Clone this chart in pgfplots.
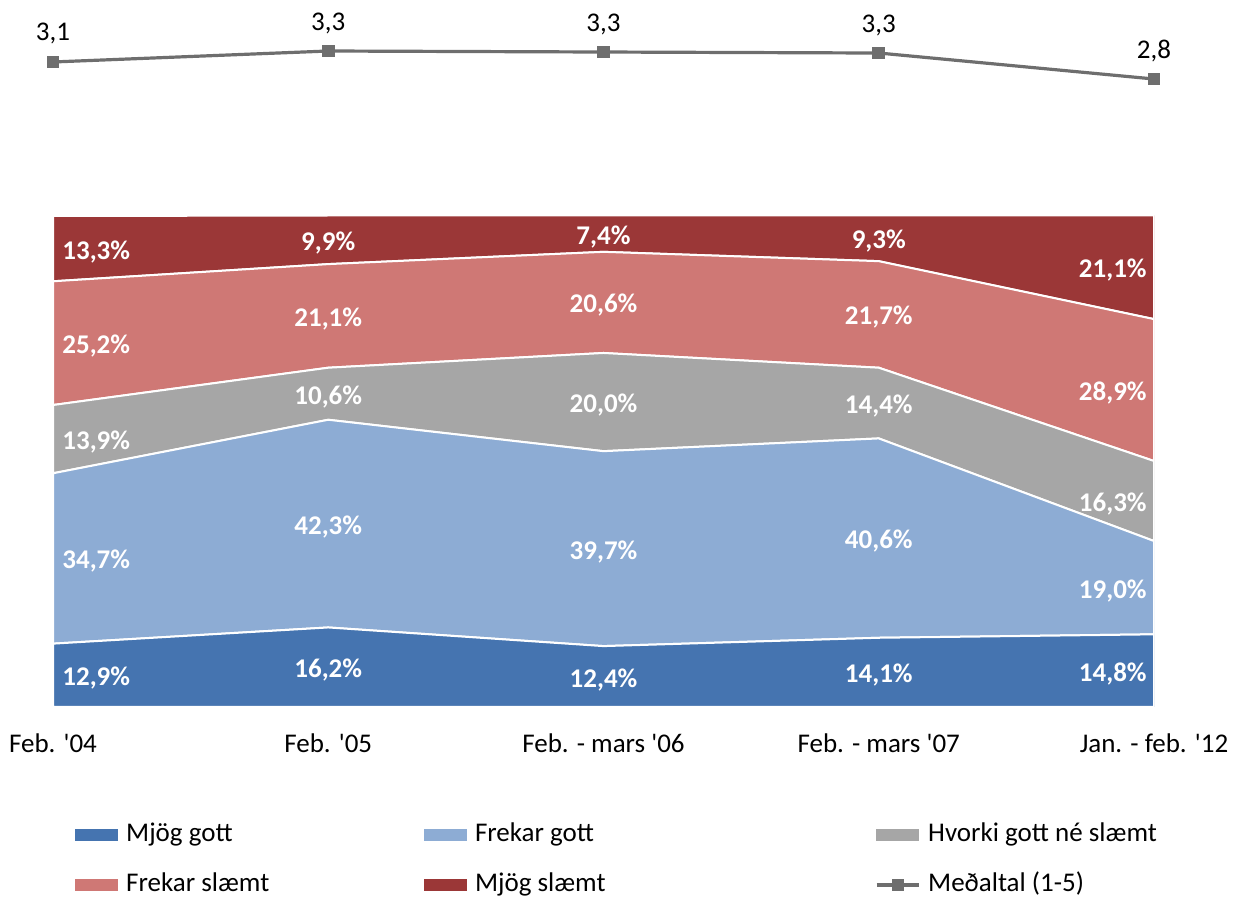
\documentclass[border=0pt]{standalone}
\usepackage{pgfplots}
\pgfplotsset{compat=1.18}
\usepackage{pgfplotstable}
\usepackage{fontspec}
\setmainfont{Carlito}

\definecolor{mgott}{RGB}{69,116,176}
\definecolor{fgott}{RGB}{141,172,212}
\definecolor{hvorki}{RGB}{166,166,166}
\definecolor{fslaemt}{RGB}{207,120,117}
\definecolor{mslaemt}{RGB}{155,55,55}
\definecolor{linegray}{RGB}{110,110,110}

% shares in %, average score (1-5)
\pgfplotstableread{
x a    b    c    d    e    avg
0 12.9 34.7 13.9 25.2 13.3 3.104
1 16.2 42.3 10.6 21.1 9.9  3.30
2 12.4 39.7 20.0 20.6 7.4  3.282
3 14.1 40.6 14.4 21.7 9.3  3.264
4 14.8 19.0 16.3 28.9 21.1 2.80
}\data

\newcommand{\lcA}[1]{\makebox[153pt][l]{\hspace*{4pt}#1}}
\newcommand{\lcB}[1]{\makebox[204pt][l]{\hspace*{4pt}#1}}
\newcommand{\lcC}[1]{\hspace*{4pt}#1}

% one band's labels: first period left aligned, last right aligned
\newcommand{\lblrow}[2]{%
  \addplot[lbl, every node near coord/.append style={anchor=west, xshift=4.5pt},
    restrict x to domain=0:0] table[x=x, y expr={#2}, meta=#1] {\data};
  \addplot[lbl, every node near coord/.append style={anchor=center},
    restrict x to domain=1:3] table[x=x, y expr={#2}, meta=#1] {\data};
  \addplot[lbl, every node near coord/.append style={anchor=east, xshift=-3.5pt},
    restrict x to domain=4:4] table[x=x, y expr={#2}, meta=#1] {\data};
}

\begin{document}
\begin{tikzpicture}[font=\fontsize{13.5}{16}\selectfont]
\useasboundingbox (-26.5pt,-95pt) rectangle (590.5pt,353.5pt);
\pgfplotsset{
  base/.style={scale only axis, width=550.5pt, height=245.5pt,
    xmin=0, xmax=4, at={(0,0)}, anchor=south west},
  lbl/.style={draw=none, mark=none, point meta=explicit,
    nodes near coords={\pgfmathprintnumber[fixed,zerofill,precision=1,use comma]{\pgfplotspointmeta}\%},
    every node near coord/.append style={inner sep=0pt, text=white, yshift=-1.5pt,
      font=\fontsize{13.5}{15}\selectfont\bfseries}},
  swatch/.style={legend image code/.code={\fill[#1] (0pt,-2.75pt) rectangle (21pt,2.75pt);}}
}

% stacked areas
\begin{axis}[base, ymin=0, ymax=100, stack plots=y,
  axis line style={draw=none}, tick style={draw=none}, ytick=\empty,
  xtick={0,...,4},
  xticklabels={Feb. \textquotesingle04, Feb. \textquotesingle05,
    Feb. - mars \textquotesingle06, Feb. - mars \textquotesingle07,
    Jan. - feb. \textquotesingle12},
  xticklabel style={anchor=base, yshift=-23pt, inner sep=0pt}]
  \addplot[fill=mgott, draw=white, line width=1pt] table[x=x, y=a] {\data} \closedcycle;
  \addplot[fill=fgott, draw=white, line width=1pt] table[x=x, y=b] {\data} \closedcycle;
  \addplot[fill=hvorki, draw=white, line width=1pt] table[x=x, y=c] {\data} \closedcycle;
  \addplot[fill=fslaemt, draw=white, line width=1pt] table[x=x, y=d] {\data} \closedcycle;
  \addplot[fill=mslaemt, draw=white, line width=1pt] table[x=x, y=e] {\data} \closedcycle;
\end{axis}

% labels in the middle of each band
\begin{axis}[base, hide axis, ymin=0, ymax=100,
  /pgf/number format/assume math mode=true]
  \lblrow{a}{\thisrow{a}/2}
  \lblrow{b}{\thisrow{a}+\thisrow{b}/2}
  \lblrow{c}{\thisrow{a}+\thisrow{b}+\thisrow{c}/2}
  \lblrow{d}{\thisrow{a}+\thisrow{b}+\thisrow{c}+\thisrow{d}/2}
  \lblrow{e}{\thisrow{a}+\thisrow{b}+\thisrow{c}+\thisrow{d}+\thisrow{e}/2}
\end{axis}

% average line and legend
\begin{axis}[base, hide axis, clip=false, ymin=-8.414, ymax=0.354,
  /pgf/number format/assume math mode=true,
  legend columns=3,
  legend cell align=left,
  legend style={at={(axis description cs:0,0)}, anchor=west,
    xshift=11pt, yshift=-76.5pt, draw=none, fill=none,
    inner sep=0pt, column sep=0pt, row sep=13pt,
    nodes={inner sep=0pt, text height=9pt, text depth=3pt},
    font=\fontsize{13.5}{16}\selectfont}]
  \addlegendimage{swatch=mgott}   \addlegendentry{\lcA{Mjög gott}}
  \addlegendimage{swatch=fgott}   \addlegendentry{\lcB{Frekar gott}}
  \addlegendimage{swatch=hvorki}  \addlegendentry{\lcC{Hvorki gott né slæmt}}
  \addlegendimage{swatch=fslaemt} \addlegendentry{\lcA{Frekar slæmt}}
  \addlegendimage{swatch=mslaemt} \addlegendentry{\lcB{Mjög slæmt}}
  \addplot[linegray, line width=1.6pt, mark=square*, mark size=2.4pt,
    point meta=explicit,
    nodes near coords={\pgfmathprintnumber[fixed,zerofill,precision=1,use comma]{\pgfplotspointmeta}},
    every node near coord/.append style={anchor=base, yshift=10.5pt, text=black, inner sep=0pt},
    legend image code/.code={\draw[linegray, line width=1.6pt] (0pt,0pt) -- (21pt,0pt);
      \fill[linegray] (8.25pt,-2.4pt) rectangle (12.75pt,2.4pt);}]
    table[x=x, y=avg, meta=avg] {\data};
  \addlegendentry{\lcC{Meðaltal (1-5)}}
\end{axis}
\end{tikzpicture}
\end{document}
